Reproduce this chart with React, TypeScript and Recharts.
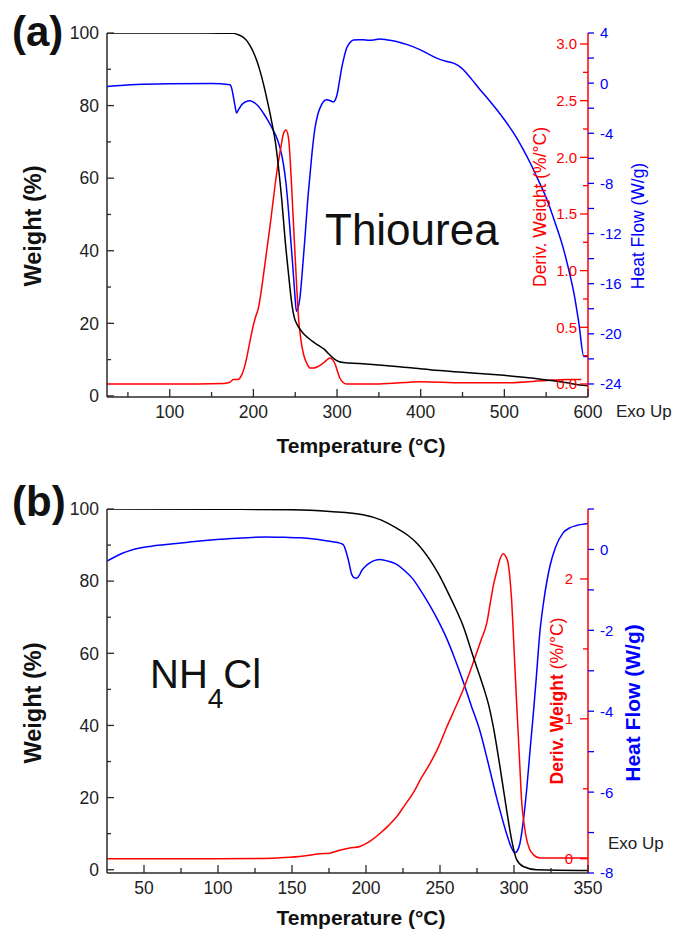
import React from "react";
import { LineChart, Line, XAxis, YAxis, Label } from "recharts";

const FONT = "'Liberation Sans', Arial, Helvetica, sans-serif";
const AXIS = "#2a2a2a";
const RED = "#ff0000";
const BLUE = "#0000ff";

// ---------- (a) Thiourea: [temperature, value] ----------
const thioWeight: number[][] = [
  [25, 100], [100, 100], [160, 99.95], [176, 99.9], [182, 99.5], [188, 98.8], [192, 97.9],
  [196, 96.5], [200, 94.7], [204, 92.4], [208, 89.5], [212, 86], [216, 82], [220, 77.7],
  [223, 74.2], [226, 70.4], [230, 63], [234, 53.8], [238, 42.8], [242, 33.6], [246, 25.3],
  [249, 21.5], [252, 19.8], [256, 18.3], [260, 17.1], [266, 15.9], [272, 14.8], [278, 13.9],
  [284.5, 12.9], [290, 11.6], [296.5, 10.2], [302, 9.5], [307.5, 9.2], [327, 8.9], [371, 8.1],
  [411, 7.2], [450, 6.5], [491, 5.8], [520, 5.2], [550, 4.4], [575, 3.6], [590, 3], [600, 2.8],
];
const thioDeriv: number[][] = [
  [25, 0], [100, 0], [165, 0.005], [172, 0.015], [176, 0.04], [182, 0.04], [186, 0.08],
  [189, 0.14], [192, 0.23], [196, 0.38], [200, 0.52], [203, 0.6], [206, 0.67], [209, 0.8],
  [212, 0.96], [216, 1.18], [220, 1.4], [223, 1.58], [226, 1.76], [229, 1.92], [232, 2.05],
  [236, 2.21], [239, 2.24], [242, 2.17], [244, 1.98], [246, 1.7], [248, 1.4], [250, 1.11],
  [252, 0.83], [254, 0.58], [257, 0.38], [260, 0.26], [264, 0.18], [268, 0.14], [272, 0.14],
  [276, 0.15], [281, 0.17], [286, 0.2], [290, 0.225], [292, 0.23], [295, 0.21], [298, 0.17],
  [301, 0.1], [303.5, 0.05], [307, 0.015], [311.5, 0], [350, 0], [400, 0.02], [450, 0.01],
  [500, 0.01], [550, 0.03], [575, 0.04], [592, 0.04],
];
const thioHeat: number[][] = [
  [25, -0.26], [60, -0.1], [100, -0.04], [150, -0.02], [172, -0.12], [174, -0.4],
  [176, -1.05], [178, -1.8], [180, -2.38], [182, -2.15], [186, -1.72], [191, -1.48],
  [196, -1.4], [201, -1.55], [206, -1.85], [212, -2.4], [218, -3.05], [224, -3.8],
  [228, -4.37], [232, -5.2], [236, -6.5], [239, -8.0], [242, -10.2], [245, -12.8],
  [247, -14.5], [249.5, -16.8], [251.4, -18.2], [253.5, -17.9], [255.7, -17.1],
  [258.5, -15.0], [261.7, -12.3], [264.5, -9.7], [267.7, -7.3], [270.5, -5.3], [273.6, -3.6],
  [277, -2.5], [281.5, -1.72], [287.5, -1.32], [292, -1.4], [295.5, -1.5], [299.5, -1.05],
  [302.5, 0], [305.5, 1.2], [308.5, 2.1], [311.5, 2.8], [315, 3.2], [319.5, 3.45],
  [326, 3.47], [331, 3.47], [338, 3.42], [344, 3.45], [351, 3.52], [360, 3.45], [371, 3.33],
  [385, 3.05], [399, 2.67], [410, 2.3], [419, 2.0], [430, 1.75], [439, 1.6], [445, 1.4],
  [451, 1.07], [461, 0.3], [471, -0.52], [481, -1.3], [491, -2.12], [501, -3.0], [511, -3.97],
  [521, -5.1], [531, -6.37], [541, -7.8], [551, -9.3], [561, -11.2], [571, -13.3],
  [577, -14.9], [583, -16.7], [589, -19.1], [595, -21.8], [600, -21.8],
];

// ---------- (b) NH4Cl ----------
const nhWeight: number[][] = [
  [25, 100], [100, 99.95], [150, 99.8], [175.6, 99.3], [198, 98.4], [210, 97], [220.7, 94.7],
  [228, 92.8], [234.2, 90.6], [243.2, 85.9], [249, 82], [254.5, 77.6], [260, 72.9],
  [265.7, 67.5], [272.4, 59.1], [279.2, 50.8], [283, 45.5], [286, 39.7], [290.5, 28.6],
  [295, 16.6], [298.4, 8.3], [301.8, 2.8], [306.3, 0.9], [315.3, 0], [350, -0.2],
];
const nhDeriv: number[][] = [
  [25, 0], [100, 0], [125, 0.002], [140, 0.006], [155, 0.016], [169, 0.035], [175.6, 0.04],
  [182, 0.06], [189, 0.076], [195.9, 0.088], [202, 0.12], [209.4, 0.18], [215, 0.235],
  [220.7, 0.3], [226, 0.38], [231.9, 0.47], [237, 0.57], [243.2, 0.68], [249, 0.8],
  [254.5, 0.94], [260, 1.07], [265.7, 1.21], [270, 1.33], [274.7, 1.47], [278, 1.57],
  [281.5, 1.68], [284, 1.83], [286, 1.95], [288.5, 2.06], [290.5, 2.14], [292.7, 2.18],
  [294.5, 2.16], [296.1, 2.11], [297.3, 2.0], [298.4, 1.85], [299.5, 1.62], [300.6, 1.37],
  [301.7, 1.13], [302.8, 0.9], [304, 0.65], [305.1, 0.42], [306.8, 0.25], [308.5, 0.14],
  [310.5, 0.07], [313, 0.03], [317.5, 0.005], [350, 0.005],
];
const nhHeat: number[][] = [
  [25, -0.29], [35, -0.1], [42.8, 0], [55, 0.08], [65, 0.12], [80, 0.18], [99, 0.245],
  [115, 0.28], [132.9, 0.31], [145, 0.3], [155.4, 0.29], [165, 0.26], [175.6, 0.2],
  [181, 0.17], [184.6, 0.12], [186.5, -0.05], [188, -0.25], [190.3, -0.61], [192, -0.7],
  [193.7, -0.71], [195.5, -0.64], [197, -0.53], [199.5, -0.42], [202.6, -0.33], [206, -0.27],
  [209.4, -0.25], [215, -0.29], [220.7, -0.37], [226, -0.52], [231.9, -0.74], [237, -1.02],
  [243.2, -1.39], [249, -1.78], [254.5, -2.2], [260, -2.7], [265.7, -3.27], [271, -3.85],
  [277, -4.49], [282, -5.2], [288.2, -6.13], [292, -6.65], [295, -7.03], [298, -7.35],
  [300.6, -7.5], [302.3, -7.45], [304, -7.27], [306, -6.8], [308.5, -5.96], [311, -4.9],
  [313, -4.09], [315, -3.2], [317.5, -2.04], [320, -1.3], [324.3, -0.41], [328, 0.05],
  [333.2, 0.41], [338, 0.54], [342.2, 0.59], [346, 0.62], [350, 0.64],
];

// ---------- ticks ----------
const weightTicks = [0, 10, 20, 30, 40, 50, 60, 70, 80, 90, 100];
const weightMajors = [0, 20, 40, 60, 80, 100];
const tempTicksA = [50, 100, 150, 200, 250, 300, 350, 400, 450, 500, 550, 600];
const tempMajorsA = [100, 200, 300, 400, 500, 600];
const derivTicksA = [0, 0.25, 0.5, 0.75, 1, 1.25, 1.5, 1.75, 2, 2.25, 2.5, 2.75, 3];
const derivMajorsA = [0, 0.5, 1, 1.5, 2, 2.5, 3];
const heatTicksA = [4, 2, 0, -2, -4, -6, -8, -10, -12, -14, -16, -18, -20, -22, -24];
const heatMajorsA = [4, 0, -4, -8, -12, -16, -20, -24];
const tempTicksB = [50, 75, 100, 125, 150, 175, 200, 225, 250, 275, 300, 325, 350];
const tempMajorsB = [50, 100, 150, 200, 250, 300, 350];
const derivTicksB = [0, 0.5, 1, 1.5, 2];
const derivMajorsB = [0, 1, 2];
const heatTicksB = [1, 0, -1, -2, -3, -4, -5, -6, -7, -8];
const heatMajorsB = [0, -2, -4, -6, -8];

const toRows = (arr: number[][]) => arr.map(([t, v]) => ({ t, v }));

const leftTick = (majors: number[]) => (p: any) => {
  const v = p.payload.value;
  const major = majors.includes(v);
  return (
    <g>
      <line x1={p.x} x2={p.x + (major ? 7 : 4)} y1={p.y} y2={p.y} stroke={AXIS} strokeWidth={1.3} />
      {major && (
        <text x={p.x - 8} y={p.y} dy="0.36em" textAnchor="end" fontSize={17.5} fill="#222" fontFamily={FONT}>
          {v}
        </text>
      )}
    </g>
  );
};

const bottomTick = (majors: number[]) => (p: any) => {
  const v = p.payload.value;
  const major = majors.includes(v);
  return (
    <g>
      <line x1={p.x} x2={p.x} y1={p.y} y2={p.y - (major ? 8 : 5)} stroke={AXIS} strokeWidth={1.3} />
      {major && (
        <text x={p.x} y={p.y + 21} textAnchor="middle" fontSize={17.5} fill="#222" fontFamily={FONT}>
          {v}
        </text>
      )}
    </g>
  );
};

const redTick = (majors: number[], fmt: (v: number) => string, gap: number) => (p: any) => {
  const v = p.payload.value;
  const major = majors.includes(v);
  return (
    <g>
      <line x1={p.x} x2={p.x - (major ? 8 : 5)} y1={p.y} y2={p.y} stroke={RED} strokeWidth={1.3} />
      {major && (
        <text x={p.x - gap} y={p.y} dy="0.36em" textAnchor="end" fontSize={15} fill={RED} fontFamily={FONT}>
          {fmt(v)}
        </text>
      )}
    </g>
  );
};

const blueTick = (majors: number[]) => (p: any) => {
  const v = p.payload.value;
  const major = majors.includes(v);
  return (
    <g>
      <line x1={p.x} x2={p.x + 6} y1={p.y} y2={p.y} stroke={BLUE} strokeWidth={1.3} />
      {major && (
        <text x={p.x + 12} y={p.y} dy="0.36em" textAnchor="start" fontSize={15} fill={BLUE} fontFamily={FONT}>
          {v}
        </text>
      )}
    </g>
  );
};

const vTitle = (cx: number, cy: number, color: string, size: number, bold: string, rest: string, restBold: boolean) => () => (
  <text
    x={cx}
    y={cy}
    transform={`rotate(-90 ${cx} ${cy})`}
    textAnchor="middle"
    dominantBaseline="central"
    fontFamily={FONT}
    fontSize={size}
    fill={color}
  >
    <tspan fontWeight={bold ? "bold" : "normal"}>{bold}</tspan>
    <tspan fontWeight={restBold ? "bold" : "normal"}>{rest}</tspan>
  </text>
);

const hTitle = (cx: number, y: number) => () => (
  <text x={cx} y={y} textAnchor="middle" fontFamily={FONT} fontSize={21} fontWeight="bold" fill="#111">
    Temperature (°C)
  </text>
);

interface PanelProps {
  top: number;
  height: number;
  marginTop: number;
  xDomain: number[];
  xTicks: number[];
  xMajors: number[];
  wDomain: number[];
  dDomain: number[];
  dTicks: number[];
  dMajors: number[];
  dFmt: (v: number) => string;
  dGap: number;
  hDomain: number[];
  hTicks: number[];
  hMajors: number[];
  weight: number[][];
  deriv: number[][];
  heat: number[][];
  titles: {
    xTitleY: number;
    wTitle: [number, number];
    dTitle: () => React.ReactElement;
    hTitle: () => React.ReactElement;
  };
}

function Panel(props: PanelProps) {
  return (
    <div style={{ position: "absolute", left: 0, top: props.top }}>
      <LineChart width={677} height={props.height} margin={{ top: props.marginTop, right: 0, bottom: 0, left: 0 }}>
        <XAxis
          dataKey="t"
          type="number"
          domain={props.xDomain}
          allowDataOverflow
          ticks={props.xTicks}
          interval={0}
          tickSize={0}
          tickMargin={0}
          tickLine={false}
          tick={bottomTick(props.xMajors)}
          height={props.height - props.marginTop - 364}
          axisLine={{ stroke: AXIS, strokeWidth: 1.5 }}
        >
          <Label content={hTitle(361, props.titles.xTitleY)} />
        </XAxis>
        <XAxis
          xAxisId="top"
          orientation="top"
          dataKey="t"
          type="number"
          domain={props.xDomain}
          allowDataOverflow
          height={0}
          tick={false}
          tickLine={false}
          axisLine={{ stroke: AXIS, strokeWidth: 1.5 }}
        />
        <YAxis
          yAxisId="w"
          type="number"
          domain={props.wDomain}
          allowDataOverflow
          ticks={weightTicks}
          interval={0}
          width={107}
          tickSize={0}
          tickMargin={0}
          tickLine={false}
          tick={leftTick(weightMajors)}
          axisLine={{ stroke: AXIS, strokeWidth: 1.5 }}
        >
          <Label content={vTitle(props.titles.wTitle[0], props.titles.wTitle[1], "#111", 23.5, "Weight (%)", "", true)} />
        </YAxis>
        <YAxis
          yAxisId="d"
          orientation="right"
          mirror
          type="number"
          domain={props.dDomain}
          allowDataOverflow
          ticks={props.dTicks}
          interval={0}
          tickSize={0}
          tickMargin={0}
          tickLine={false}
          tick={redTick(props.dMajors, props.dFmt, props.dGap)}
          axisLine={{ stroke: RED, strokeWidth: 1.5 }}
        >
          <Label content={props.titles.dTitle} />
        </YAxis>
        <YAxis
          yAxisId="h"
          orientation="right"
          type="number"
          domain={props.hDomain}
          allowDataOverflow
          ticks={props.hTicks}
          interval={0}
          width={89}
          tickSize={0}
          tickMargin={0}
          tickLine={false}
          tick={blueTick(props.hMajors)}
          axisLine={false}
        >
          <Label content={props.titles.hTitle} />
        </YAxis>
        <Line
          yAxisId="h"
          data={toRows(props.heat)}
          dataKey="v"
          type="monotone"
          stroke={BLUE}
          strokeWidth={1.5}
          dot={false}
          isAnimationActive={false}
        />
        <Line
          yAxisId="d"
          data={toRows(props.deriv)}
          dataKey="v"
          type="monotone"
          stroke={RED}
          strokeWidth={1.5}
          dot={false}
          isAnimationActive={false}
        />
        <Line
          yAxisId="w"
          data={toRows(props.weight)}
          dataKey="v"
          type="monotone"
          stroke="#000"
          strokeWidth={1.5}
          dot={false}
          isAnimationActive={false}
        />
      </LineChart>
    </div>
  );
}

export default function App() {
  return (
    <div style={{ position: "absolute", left: 0, top: 0, width: 677, height: 939, background: "#fff", fontFamily: FONT }}>
      <Panel
        top={0}
        height={470}
        marginTop={33}
        xDomain={[25, 600]}
        xTicks={tempTicksA}
        xMajors={tempMajorsA}
        wDomain={[-0.3, 100]}
        dDomain={[-0.115, 3.097]}
        dTicks={derivTicksA}
        dMajors={derivMajorsA}
        dFmt={(v) => v.toFixed(1)}
        dGap={11}
        hDomain={[-25.04, 4]}
        hTicks={heatTicksA}
        hMajors={heatMajorsA}
        weight={thioWeight}
        deriv={thioDeriv}
        heat={thioHeat}
        titles={{
          xTitleY: 453,
          wTitle: [33, 226],
          dTitle: vTitle(540, 207, RED, 17.5, "", "Deriv. Weight (%/°C)", false),
          hTitle: vTitle(638, 226, BLUE, 17.5, "", "Heat Flow (W/g)", false),
        }}
      />
      <Panel
        top={470}
        height={469}
        marginTop={39}
        xDomain={[25, 350]}
        xTicks={tempTicksB}
        xMajors={tempMajorsB}
        wDomain={[-0.9, 100]}
        dDomain={[-0.102, 2.5]}
        dTicks={derivTicksB}
        dMajors={derivMajorsB}
        dFmt={(v) => String(v)}
        dGap={15}
        hDomain={[-8, 1]}
        hTicks={heatTicksB}
        hMajors={heatMajorsB}
        weight={nhWeight}
        deriv={nhDeriv}
        heat={nhHeat}
        titles={{
          xTitleY: 455,
          wTitle: [33, 233],
          dTitle: vTitle(557, 231, RED, 17.5, "Deriv. Weight ", "(%/°C)", false),
          hTitle: vTitle(632, 233, BLUE, 21, "Heat Flow (W/g)", "", true),
        }}
      />
      <svg width={677} height={939} style={{ position: "absolute", left: 0, top: 0, pointerEvents: "none" }} fontFamily={FONT}>
        <text x={12} y={46} fontSize={42} fontWeight="bold" fill="#111">(a)</text>
        <text x={325} y={245} fontSize={44} fill="#111">Thiourea</text>
        <text x={616} y={417} fontSize={17} fill="#222">Exo Up</text>
        <text x={12} y={516} fontSize={42} fontWeight="bold" fill="#111">(b)</text>
        <text x={150} y={688} fontSize={40} fill="#111">
          NH<tspan fontSize={28} dy={20}>4</tspan><tspan dy={-20}>Cl</tspan>
        </text>
        <text x={608} y={849} fontSize={17} fill="#222">Exo Up</text>
      </svg>
    </div>
  );
}
